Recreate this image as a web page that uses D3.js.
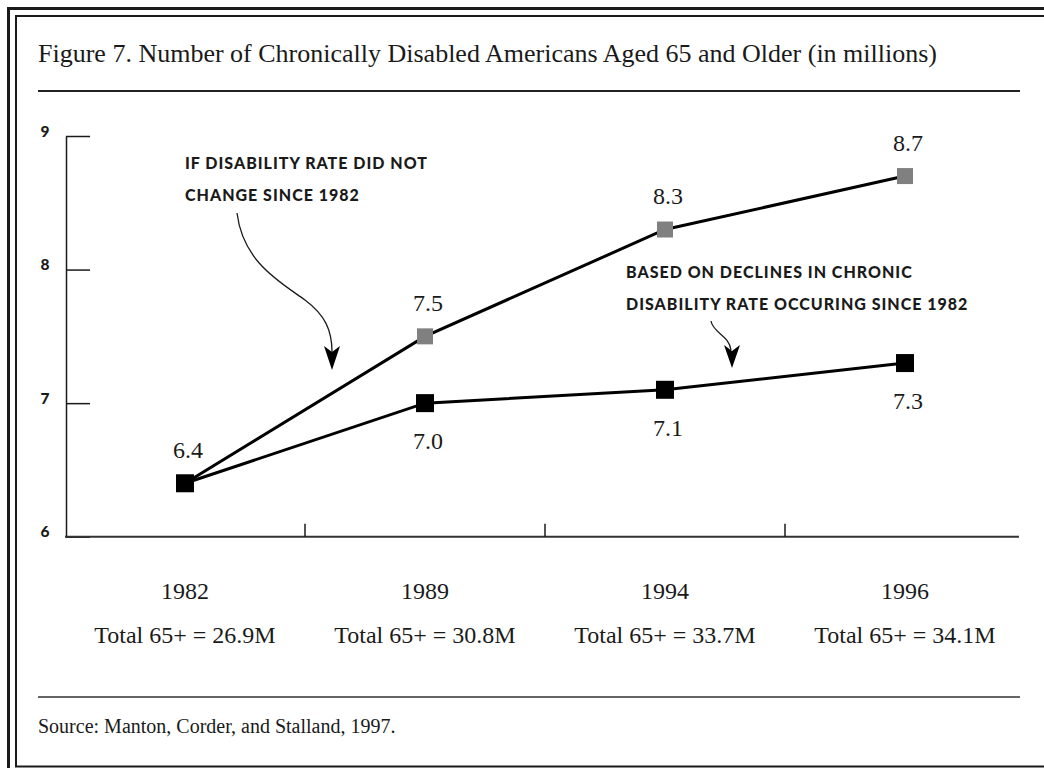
<!DOCTYPE html>
<html>
<head>
<meta charset="utf-8">
<script src="https://cdn.jsdelivr.net/npm/d3@7"></script>
<style>
  html, body { margin: 0; padding: 0; background: #fff; overflow: hidden; }
  svg { display: block; }
  .serif { font-family: "Liberation Serif", "Times New Roman", serif; fill: #1a1a1a; }
  .note { font-family: "Lato Black", "Lato", "DejaVu Sans", sans-serif; font-weight: 900; fill: #1a1a1a; letter-spacing: 1px; }
</style>
</head>
<body>
<svg id="chart" width="1044" height="768"></svg>
<script>
// Survey years and the population totals shown under each year
const years = ["1982", "1989", "1994", "1996"];
const totals = ["Total 65+ = 26.9M", "Total 65+ = 30.8M", "Total 65+ = 33.7M", "Total 65+ = 34.1M"];

// Millions of chronically disabled Americans aged 65+
const constantRate = [6.4, 7.5, 8.3, 8.7];   // if the 1982 disability rate had held
const decliningRate = [6.4, 7.0, 7.1, 7.3];  // with observed declines in the rate

const yTicks = [6, 7, 8, 9];

const titleText = "Figure 7. Number of Chronically Disabled Americans Aged 65 and Older (in millions)";
const sourceText = "Source: Manton, Corder, and Stalland, 1997.";
const noteTop = ["IF DISABILITY RATE DID NOT", "CHANGE SINCE 1982"];
const noteBottom = ["BASED ON DECLINES IN CHRONIC", "DISABILITY RATE OCCURING SINCE 1982"];

const svg = d3.select("#chart");

// Double frame around the figure
svg.append("rect").attr("x", 8.5).attr("y", 8.5).attr("width", 1060).attr("height", 780)
  .attr("fill", "none").attr("stroke", "#1a1a1a").attr("stroke-width", 3);
svg.append("rect").attr("x", 16).attr("y", 16).attr("width", 1050).attr("height", 750.5)
  .attr("fill", "none").attr("stroke", "#1a1a1a").attr("stroke-width", 2);

// Title and rule
svg.append("text").attr("class", "serif").attr("x", 38).attr("y", 62)
  .attr("font-size", 26).text(titleText);
svg.append("line").attr("x1", 38).attr("x2", 1020).attr("y1", 91).attr("y2", 91)
  .attr("stroke", "#222").attr("stroke-width", 2);

// Scales
const x = d3.scaleBand().domain(years).range([65, 1025]).padding(0);
const cx = d => x(d) + x.bandwidth() / 2;
const y = d3.scaleLinear().domain([6, 9]).range([536.7, 136]);

// Y axis with inward ticks
const yAxis = svg.append("g").attr("transform", "translate(66,0)")
  .call(d3.axisLeft(y).tickValues(yTicks).tickFormat(d3.format("d"))
    .tickSizeInner(-24).tickSizeOuter(0));
yAxis.select(".domain").attr("stroke", "#1a1a1a").attr("stroke-width", 1.5);
yAxis.selectAll(".tick line").attr("stroke", "#1a1a1a").attr("stroke-width", 1.5);
yAxis.selectAll(".tick text")
  .attr("x", -21).attr("dy", 0).attr("text-anchor", "middle")
  .attr("font-family", "'Lato Black', Lato, 'DejaVu Sans', sans-serif").attr("font-weight", 900)
  .attr("font-size", 15.5).attr("fill", "#1a1a1a");

// X baseline with upward ticks between year bands
const x0 = y.range()[0];
svg.append("line").attr("x1", 65).attr("x2", 1019).attr("y1", x0).attr("y2", x0)
  .attr("stroke", "#333").attr("stroke-width", 2);
svg.append("g").selectAll("line").data(years.slice(1)).join("line")
  .attr("x1", d => x(d)).attr("x2", d => x(d))
  .attr("y1", x0).attr("y2", x0 - 13)
  .attr("stroke", "#1a1a1a").attr("stroke-width", 1.5);

// Year labels and population totals
svg.append("g").selectAll("text").data(years).join("text")
  .attr("class", "serif").attr("x", d => cx(d)).attr("y", 599)
  .attr("text-anchor", "middle").attr("font-size", 24).text(d => d);
svg.append("g").selectAll("text").data(totals).join("text")
  .attr("class", "serif").attr("x", (d, i) => cx(years[i])).attr("y", 643)
  .attr("text-anchor", "middle").attr("font-size", 24).text(d => d);

// Series lines
const line = d3.line().x((d, i) => cx(years[i])).y(d => y(d));
svg.append("path").datum(constantRate).attr("d", line)
  .attr("fill", "none").attr("stroke", "#000").attr("stroke-width", 3);
svg.append("path").datum(decliningRate).attr("d", line)
  .attr("fill", "none").attr("stroke", "#000").attr("stroke-width", 3);

// Markers: grey for the constant-rate projection, black for the declining-rate series
const gs = 16, bs = 18;
svg.append("g").selectAll("rect").data(constantRate.slice(1)).join("rect")
  .attr("x", (d, i) => cx(years[i + 1]) - gs / 2).attr("y", d => y(d) - gs / 2)
  .attr("width", gs).attr("height", gs).attr("fill", "#808080");
svg.append("g").selectAll("rect").data(decliningRate).join("rect")
  .attr("x", (d, i) => cx(years[i]) - bs / 2).attr("y", d => y(d) - bs / 2)
  .attr("width", bs).attr("height", bs).attr("fill", "#000");

// Value labels: above for the upper series, below for the lower one
const fmt = d3.format(".1f");
svg.append("g").selectAll("text").data(constantRate).join("text")
  .attr("class", "serif").attr("x", (d, i) => cx(years[i]) + 3).attr("y", d => y(d) - 25)
  .attr("text-anchor", "middle").attr("font-size", 24).text(d => fmt(d));
svg.append("g").selectAll("text").data(decliningRate.slice(1)).join("text")
  .attr("class", "serif").attr("x", (d, i) => cx(years[i + 1]) + 3).attr("y", d => y(d) + 46)
  .attr("text-anchor", "middle").attr("font-size", 24).text(d => fmt(d));

// Annotations
const notes = svg.append("g");
noteTop.forEach((t, i) => notes.append("text").attr("class", "note")
  .attr("x", 185).attr("y", 169 + i * 32).attr("font-size", 16).text(t));
noteBottom.forEach((t, i) => notes.append("text").attr("class", "note")
  .attr("x", 626).attr("y", 278 + i * 32).attr("font-size", 16).text(t));

// Curved pointer arrows
notes.append("path")
  .attr("d", "M237,213 C243,262 280,282 305,300 C325,315 332,330 332,352")
  .attr("fill", "none").attr("stroke", "#1a1a1a").attr("stroke-width", 1.3);
notes.append("path").attr("d", "M332,370 L324,346 L332,352 L340,346 Z").attr("fill", "#000");
notes.append("path")
  .attr("d", "M711,321 C713,333 729,335 731,350")
  .attr("fill", "none").attr("stroke", "#1a1a1a").attr("stroke-width", 1.3);
notes.append("path").attr("d", "M732,368 L724,345 L732,351 L740,345 Z").attr("fill", "#000");

// Source rule and credit
svg.append("line").attr("x1", 38).attr("x2", 1020).attr("y1", 697).attr("y2", 697)
  .attr("stroke", "#666").attr("stroke-width", 2);
svg.append("text").attr("class", "serif").attr("x", 38).attr("y", 733)
  .attr("font-size", 20).text(sourceText);
</script>
</body>
</html>
